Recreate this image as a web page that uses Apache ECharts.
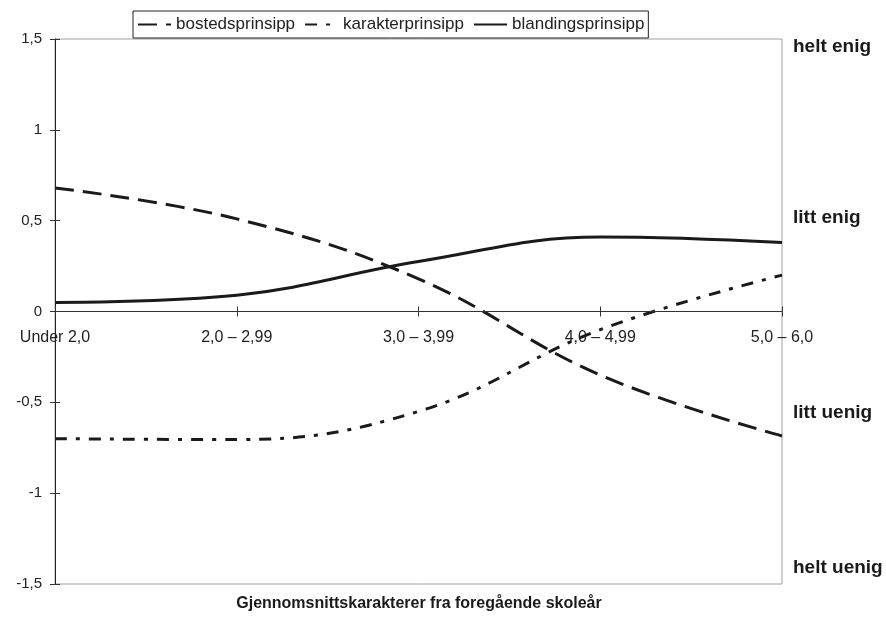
<!DOCTYPE html>
<html><head><meta charset="utf-8">
<script src="https://cdn.jsdelivr.net/npm/echarts@6/dist/echarts.min.js"></script>
<style>html,body{margin:0;padding:0;background:#fff}#c{width:886px;height:622px}</style>
</head><body><div id="c"></div>
<script>
const categories = ['Under 2,0', '2,0 – 2,99', '3,0 – 3,99', '4,0 – 4,99', '5,0 – 6,0'];
const bostedsprinsipp = [0.68, 0.51, 0.18, -0.35, -0.685];
const karakterprinsipp = [-0.70, -0.705, -0.55, -0.10, 0.20];
const blandingsprinsipp = [0.05, 0.09, 0.275, 0.41, 0.38];
const seriesNames = ['bostedsprinsipp', 'karakterprinsipp', 'blandingsprinsipp'];
const rightLabels = ['helt enig', 'litt enig', 'litt uenig', 'helt uenig'];
const xTitle = 'Gjennomsnittskarakterer fra foregående skoleår';

const chart = echarts.init(document.getElementById('c'), null, {renderer: 'canvas'});
const font = 'Liberation Sans, Arial, sans-serif';
const fmt = v => String(v).replace('.', ',');
const rightY = [47, 218, 413, 568];
const graphics = rightLabels.map((t, i) => ({
  type: 'text', x: 793, y: rightY[i],
  style: {text: t, font: 'bold 19px ' + font, fill: '#1a1a1a', textVerticalAlign: 'middle'}
}));
graphics.push({
  type: 'text', x: 419, y: 604,
  style: {text: xTitle, font: 'bold 16px ' + font, fill: '#1a1a1a', textAlign: 'center', textVerticalAlign: 'middle'}
});
const gridTop = 39, gridBottom = 38, chartH = 622;
// labels sit just under the zero line (ECharts 6 keeps labels at the grid edge)
const zeroFromBottom = (chartH - gridTop - gridBottom) / 2;
chart.setOption({
  animation: false,
  textStyle: {fontFamily: font},
  grid: {left: 55, right: 104, top: gridTop, bottom: gridBottom, show: true, borderColor: '#a0a0a0', borderWidth: 1, containLabel: false},
  legend: {
    data: seriesNames, left: 133, top: 11, orient: 'horizontal',
    backgroundColor: '#fff', borderColor: '#222', borderWidth: 1,
    padding: [5, 4, 5, 4], itemGap: 9, itemWidth: 33, itemHeight: 14,
    itemStyle: {opacity: 0},
    textStyle: {fontSize: 17, color: '#222', fontFamily: font}
  },
  xAxis: [{
    type: 'category', data: categories, boundaryGap: false, z: 5,
    axisLine: {show: true, onZero: true, lineStyle: {color: '#333', width: 1}},
    axisTick: {show: true, length: 5, inside: false, lineStyle: {color: '#333'}},
    axisLabel: {fontSize: 16, color: '#222', margin: 18 - zeroFromBottom, fontFamily: font},
    splitLine: {show: false}
  }, {
    type: 'category', data: categories, boundaryGap: false, position: 'bottom', z: 5,
    axisLine: {show: false, onZero: true},
    axisTick: {show: true, length: 5, inside: true, lineStyle: {color: '#333'}},
    axisLabel: {show: false}, splitLine: {show: false}
  }],
  yAxis: [{
    type: 'value', min: -1.5, max: 1.5, interval: 0.5, z: 5,
    axisLine: {show: true, lineStyle: {color: '#222', width: 1}},
    axisTick: {show: true, length: 5, lineStyle: {color: '#333'}},
    axisLabel: {fontSize: 15, color: '#222', margin: 13, formatter: fmt, fontFamily: font},
    splitLine: {show: false}
  }, {
    type: 'value', min: -1.5, max: 1.5, interval: 0.5, position: 'left', z: 5,
    axisLine: {show: false},
    axisTick: {show: true, inside: true, length: 5, lineStyle: {color: '#333'}},
    axisLabel: {show: false}, splitLine: {show: false}
  }],
  series: [
    {name: seriesNames[0], type: 'line', data: bostedsprinsipp, smooth: 0.4, symbol: 'none',
     lineStyle: {color: '#1a1a1a', width: 3, type: [19, 9]}, itemStyle: {color: '#1a1a1a'}},
    {name: seriesNames[1], type: 'line', data: karakterprinsipp, smooth: 0.4, symbol: 'none',
     lineStyle: {color: '#1a1a1a', width: 3, type: [12, 9, 4, 9]}, itemStyle: {color: '#1a1a1a'}},
    {name: seriesNames[2], type: 'line', data: blandingsprinsipp, smooth: 0.4, symbol: 'none',
     lineStyle: {color: '#1a1a1a', width: 3, type: 'solid'}, itemStyle: {color: '#1a1a1a'}}
  ],
  graphic: graphics
});
</script>
</body></html>
